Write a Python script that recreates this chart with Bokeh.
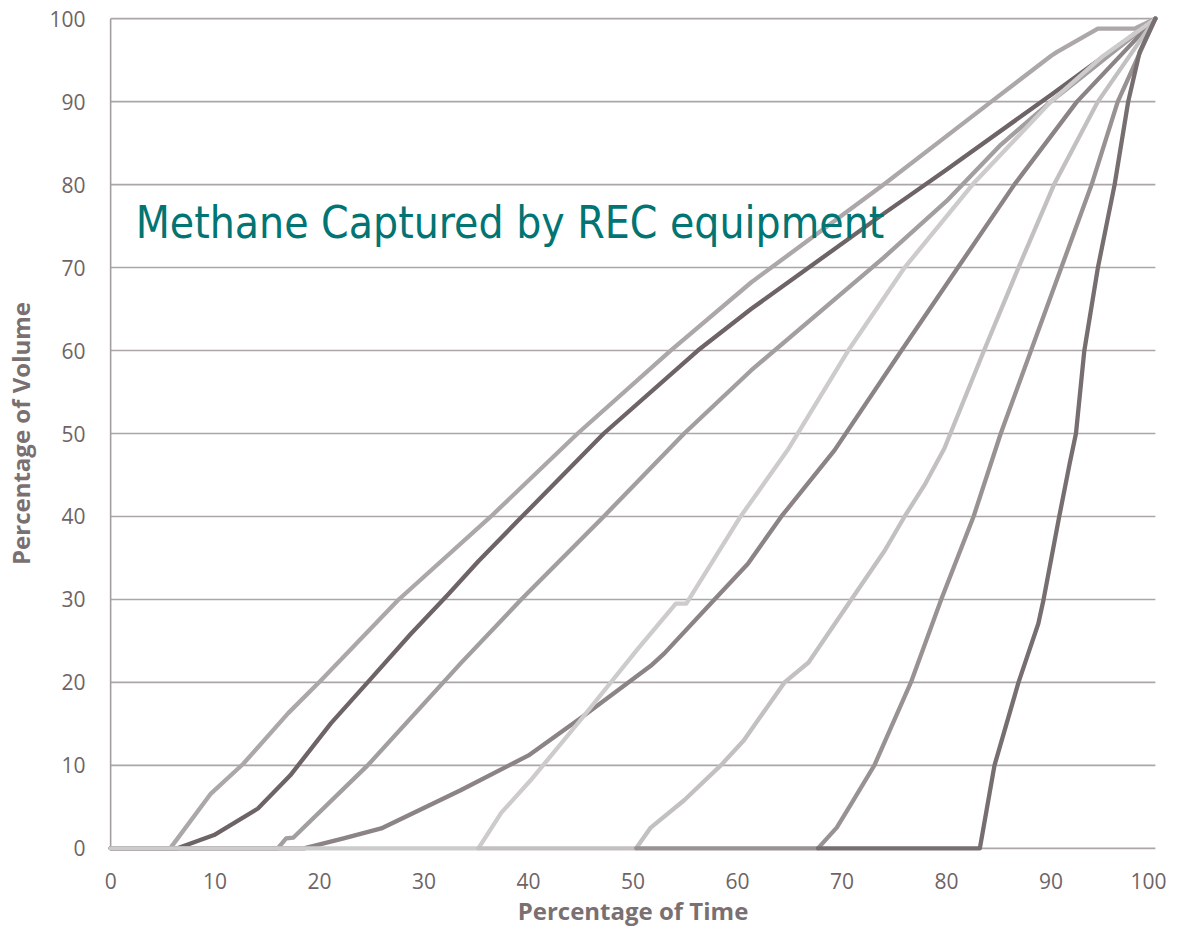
from bokeh.plotting import figure
from bokeh.models import Range1d, FixedTicker, Label
from bokeh.embed import file_html
from bokeh.resources import INLINE

# ---- data -------------------------------------------------------------
ticks = [0, 10, 20, 30, 40, 50, 60, 70, 80, 90, 100]

s1_x = [0, 5.7, 9.6, 12.7, 17, 20.1, 27.5, 36.4, 44.7, 53.6, 61.3, 74, 84.3, 90, 90.6, 94.5, 98, 100]
s1_y = [0, 0, 6.6, 10.2, 16.3, 20.2, 29.9, 40, 50, 60, 68.2, 80, 90, 95.5, 96, 98.8, 98.8, 100]

s2_x = [0, 6.4, 9.9, 14.1, 17.2, 21.1, 24.6, 28.7, 32.3, 35.2, 39, 47.2, 56.2, 61.3, 74, 80, 90, 100]
s2_y = [0, 0, 1.6, 4.8, 8.8, 15.1, 20, 25.8, 30.6, 34.6, 39.5, 50, 60, 65, 76.5, 81.8, 90.8, 100]

s3_x = [0, 16, 16.8, 17.5, 24.6, 33.5, 39.3, 47.2, 54.9, 61.3, 74, 80, 85.2, 90, 100]
s3_y = [0, 0, 1.2, 1.3, 10, 22.3, 30, 40, 50, 57.6, 71.2, 78, 84.8, 90, 100]

s4_x = [0, 18.5, 22.3, 25.9, 33.5, 40, 45, 51.7, 53, 57.8, 61, 64.2, 69.3, 75.7, 81.1, 86.5, 92.5, 100]
s4_y = [0, 0, 1.2, 2.4, 7, 11.2, 15.7, 22, 23.5, 30, 34.3, 40, 48, 60, 70, 80, 90, 100]

s5_x = [0, 35.2, 37.4, 40.2, 45, 50.5, 54.1, 55.1, 60.3, 64.8, 70.6, 76, 82.5, 90, 95, 100]
s5_y = [0, 0, 4.3, 8.2, 15.5, 24.1, 29.5, 29.5, 40, 48, 60, 70, 80, 90, 95.5, 100]

s6_x = [35.2, 50.3, 51.7, 54.9, 58.4, 60.6, 64.5, 66.8, 70.9, 74.1, 76, 78, 79.8, 83.6, 86.9, 90.3, 94.5, 100]
s6_y = [0, 0, 2.5, 5.8, 10, 13, 20, 22.4, 30, 35.9, 40, 44, 48.2, 60, 70, 80, 90, 100]

s7_x = [50.3, 67.7, 69.5, 70.9, 73.1, 76.6, 79.5, 82.6, 85.2, 88.1, 91, 93.9, 96.4, 100]
s7_y = [0, 0, 2.5, 5.4, 10, 20, 30, 40, 50, 60, 70, 80, 90, 100]

s8_x = [67.7, 83.2, 84.6, 86.9, 88.8, 89.3, 90.8, 91.8, 92.4, 93.2, 94.5, 96.1, 97.4, 98.5, 100]
s8_y = [0, 0, 10, 20, 27.1, 30, 40, 46.4, 50, 60, 70, 80, 90, 96, 100]

series = [
    (s1_x, s1_y, "#aca7a8"),
    (s2_x, s2_y, "#6e6466"),
    (s3_x, s3_y, "#a39e9f"),
    (s4_x, s4_y, "#8b8385"),
    (s5_x, s5_y, "#cdcbcb"),
    (s6_x, s6_y, "#c3c0c1"),
    (s7_x, s7_y, "#999293"),
    (s8_x, s8_y, "#776e70"),
]

title_text = "Methane Captured by REC equipment"
x_title = "Percentage of Time"
y_title = "Percentage of Volume"

# ---- figure -----------------------------------------------------------
p = figure(width=1166, height=935,
           x_range=Range1d(-0.3, 100.3), y_range=Range1d(-0.5, 100.5),
           output_backend="svg", toolbar_location=None,
           min_border_left=107, min_border_right=8,
           min_border_top=14, min_border_bottom=83)
p.outline_line_color = None
p.xgrid.visible = False
p.ygrid.visible = False

label_color = "#6e6466"
for ax in (p.xaxis[0], p.yaxis[0]):
    ax.ticker = FixedTicker(ticks=ticks)
    ax.axis_line_color = None
    ax.major_tick_line_color = None
    ax.minor_tick_line_color = None
    ax.major_tick_out = 0
    ax.major_tick_in = 0
    ax.major_label_text_color = label_color
    ax.major_label_text_font = "Open Sans"
    ax.major_label_text_font_size = "21px"
    ax.axis_label_text_color = "#7a6f71"
    ax.axis_label_text_font = "Open Sans"
    ax.axis_label_text_font_style = "bold"
    ax.axis_label_text_font_size = "24px"

p.xaxis[0].axis_label = x_title
p.yaxis[0].axis_label = y_title
p.xaxis[0].major_label_standoff = 20
p.yaxis[0].major_label_standoff = 22
p.xaxis[0].axis_label_standoff = 2
p.yaxis[0].axis_label_standoff = 9

# gridlines (from tick list) and axis lines
grid_color = "#aca6a8"
p.segment(x0=[ticks[0]] * len(ticks), y0=ticks, x1=[ticks[-1]] * len(ticks), y1=ticks,
          line_color=grid_color, line_width=1.6)
p.segment(x0=[ticks[0]], y0=[ticks[0]], x1=[ticks[0]], y1=[ticks[-1]],
          line_color="#a39e9f", line_width=1.6)

for xs, ys, c in series:
    p.line(xs, ys, line_color=c, line_width=4.3, line_join="round", line_cap="round")

p.add_layout(Label(x=2.4, y=75.4, text=title_text, text_color="#007573",
                   text_font="DejaVu Sans Condensed", text_font_size="44px",
                   text_baseline="alphabetic"))

open("out.html", "w").write(file_html(p, INLINE))
